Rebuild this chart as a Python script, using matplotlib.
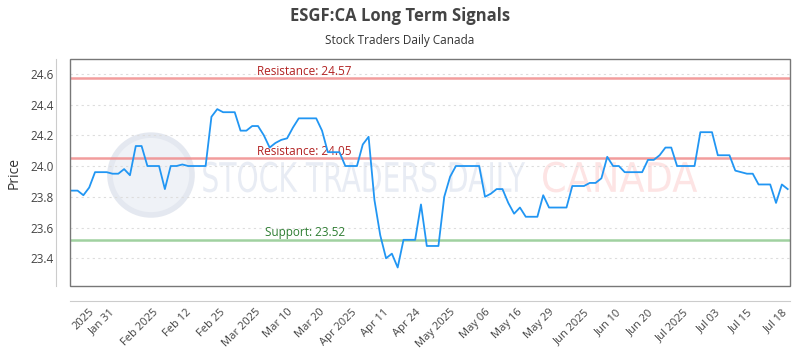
import matplotlib
matplotlib.use('Agg')
import matplotlib.pyplot as plt
from matplotlib.patches import Ellipse, Rectangle, PathPatch
from matplotlib.textpath import TextPath
from matplotlib.font_manager import FontProperties
from matplotlib.transforms import Affine2D
import numpy as np

# price series (one value per point)
prices = [
    23.84, 23.84, 23.81, 23.86, 23.96, 23.96, 23.96, 23.95, 23.95, 23.98,
    23.94, 24.13, 24.13, 24.00, 24.00, 24.00, 23.85, 24.00, 24.00, 24.01,
    24.00, 24.00, 24.00, 24.00, 24.32, 24.37, 24.35, 24.35, 24.35, 24.23,
    24.23, 24.26, 24.26, 24.20, 24.12, 24.15, 24.17, 24.18, 24.25, 24.31,
    24.31, 24.31, 24.31, 24.23, 24.09, 24.09, 24.09, 24.00, 24.00, 24.00,
    24.14, 24.19, 23.78, 23.55, 23.40, 23.43, 23.34, 23.52, 23.52, 23.52,
    23.75, 23.48, 23.48, 23.48, 23.80, 23.93, 24.00, 24.00, 24.00, 24.00,
    24.00, 23.80, 23.82, 23.85, 23.85, 23.76, 23.69, 23.73, 23.67, 23.67,
    23.67, 23.81, 23.73, 23.73, 23.73, 23.73, 23.87, 23.87, 23.87, 23.89,
    23.89, 23.92, 24.06, 24.00, 24.00, 23.96, 23.96, 23.96, 23.96, 24.04,
    24.04, 24.07, 24.12, 24.12, 24.00, 24.00, 24.00, 24.00, 24.22, 24.22,
    24.22, 24.07, 24.07, 24.07, 23.97, 23.96, 23.95, 23.95, 23.88, 23.88,
    23.88, 23.76, 23.88, 23.85,
]

tick_labels = ['2025', 'Jan 31', 'Feb 2025', 'Feb 12', 'Feb 25', 'Mar 2025',
               'Mar 10', 'Mar 20', 'Apr 2025', 'Apr 11', 'Apr 24', 'May 2025',
               'May 06', 'May 16', 'May 29', 'Jun 2025', 'Jun 10', 'Jun 20',
               'Jul 2025', 'Jul 03', 'Jul 15', 'Jul 18']
tick_idx = [3, 6.5, 14, 19.5, 25.5, 31.5, 37, 42.5, 48, 53.5, 59, 65,
            71, 76.5, 82, 88, 93.5, 99, 105, 110.5, 116, 122]

resistance_hi = 24.57
resistance_lo = 24.05
support = 23.52

plt.rcParams['font.family'] = ['Open Sans', 'DejaVu Sans']


def squeezed_text(ax, s, x0, x1, y0, y1, color):
    # text drawn as a path squeezed into a box (axes coords), for the condensed watermark
    tp = TextPath((0, 0), s, size=1, prop=FontProperties(family='DejaVu Sans'))
    ext = tp.get_extents()
    tr = (Affine2D().translate(-ext.x0, 0)
          .scale((x1 - x0) / ext.width, (y1 - y0) / ext.y1)
          .translate(x0, y0) + ax.transAxes)
    ax.add_patch(PathPatch(tp, transform=tr, facecolor=color,
                           edgecolor='none', zorder=0))


fig = plt.figure(figsize=(8, 3.5), dpi=100)
ax = fig.add_axes([0.0875, 0.183, 0.9, 0.648])

# offset light spines plus dark frame (set first, set_position resets ticks)
for s in ['top', 'right']:
    ax.spines[s].set_visible(False)
ax.spines['left'].set_position(('outward', 10))
ax.spines['bottom'].set_position(('outward', 11))
ax.spines['left'].set_color('#cccccc')
ax.spines['bottom'].set_color('#cccccc')
ax.add_patch(Rectangle((0, 0), 1, 1, transform=ax.transAxes, fill=False,
                       edgecolor='#777777', lw=1.0, clip_on=False, zorder=5))

x = np.arange(len(prices))

# watermark
ax.add_patch(Ellipse((0.1125, 0.489), 0.114, 0.352, transform=ax.transAxes,
                     facecolor='#eff2f7', edgecolor='#e4e8f0', lw=4, zorder=0))
squeezed_text(ax, 'STOCK TRADERS DAILY', 0.185, 0.632, 0.415, 0.548, '#e8ecf4')
squeezed_text(ax, 'CANADA', 0.657, 0.871, 0.415, 0.548, '#fde4e4')

# signal lines
ax.axhline(resistance_hi, color='#f08c8c', lw=1.8, alpha=0.85, zorder=2)
ax.axhline(resistance_lo, color='#f08c8c', lw=1.8, alpha=0.85, zorder=2)
ax.axhline(support, color='#8fc98f', lw=1.8, alpha=0.85, zorder=2)
ax.text(40, resistance_hi + 0.005, 'Resistance: %.2f' % resistance_hi,
        color='#b22222', fontsize=8.5, ha='center', va='bottom', zorder=3)
ax.text(40, resistance_lo + 0.005, 'Resistance: %.2f' % resistance_lo,
        color='#b22222', fontsize=8.5, ha='center', va='bottom', zorder=3)
ax.text(40, support + 0.005, 'Support: %.2f' % support,
        color='#2e7d32', fontsize=8.5, ha='center', va='bottom', zorder=3)

ax.plot(x, prices, color='#2196f3', lw=1.3, zorder=4)

ax.set_xlim(-0.3, len(prices) - 0.6)
ax.set_ylim(23.22, 24.695)
ax.set_yticks([23.4, 23.6, 23.8, 24.0, 24.2, 24.4, 24.6])
ax.yaxis.grid(True, linestyle=(0, (2, 3)), color='#dddddd', lw=0.8)
ax.set_axisbelow(True)

ax.set_xticks(tick_idx)
ax.set_xticklabels(tick_labels, rotation=45, ha='right', rotation_mode='anchor',
                   fontsize=8, color='#444444')
for lab in ax.get_yticklabels():
    lab.set_fontsize(8.5)
    lab.set_color('#444444')
ax.tick_params(length=0)
ax.tick_params(axis='y', pad=2)
ax.tick_params(axis='x', pad=4)

ax.set_ylabel('Price', fontsize=10, color='#333333', labelpad=6)

fig.text(0.5, 0.955, 'ESGF:CA Long Term Signals', ha='center', va='center',
         fontsize=12, fontweight='bold', color='#444444')
fig.text(0.5, 0.885, 'Stock Traders Daily Canada', ha='center', va='center',
         fontsize=8.5, color='#333333')

plt.savefig('out.png', dpi=100)
